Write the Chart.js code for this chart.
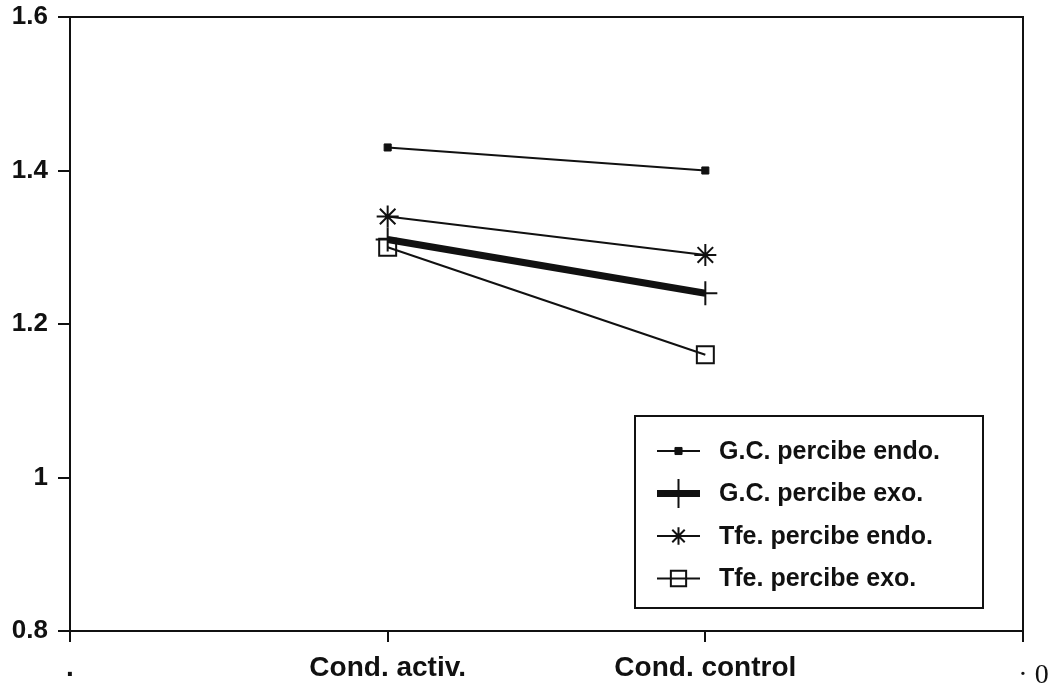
<!DOCTYPE html>
<html>
<head>
<meta charset="utf-8">
<script src="https://cdn.jsdelivr.net/npm/chart.js@4/dist/chart.umd.min.js"></script>
<style>
  html, body { margin: 0; padding: 0; background: #ffffff; }
  #wrap { width: 1048px; height: 686px; }
</style>
</head>
<body>
<div id="wrap"><canvas id="chart" width="1048" height="686"></canvas></div>
<script>
// Categories along the x axis (outer two are spacer positions)
const categories = ['.', 'Cond. activ.', 'Cond. control', '   \u00b7 0'];

// Mean perception scores per group
const gcEndo  = [null, 1.43, 1.40, null];
const gcExo   = [null, 1.31, 1.24, null];
const tfeEndo = [null, 1.34, 1.29, null];
const tfeExo  = [null, 1.30, 1.16, null];

const seriesNames = ['G.C. percibe endo.', 'G.C. percibe exo.', 'Tfe. percibe endo.', 'Tfe. percibe exo.'];

// Value axis
const yTicks = [0.8, 1.0, 1.2, 1.4, 1.6];

const INK = '#111111';
const boldSans = (size, lh) => ({ family: "'Liberation Sans', Arial, sans-serif", size: size, weight: 'bold', lineHeight: lh || 1.2 });

function drawMarker(ctx, ds, x, y, scale) {
  const opts = {
    pointStyle: ds.pointStyle,
    radius: ds.pointRadius * (scale || 1),
    rotation: 0,
    borderWidth: ds.pointBorderWidth
  };
  ctx.save();
  ctx.strokeStyle = ds.pointBorderColor;
  ctx.fillStyle = ds.pointBackgroundColor;
  ctx.lineWidth = ds.pointBorderWidth;
  if (opts.radius > 0) Chart.helpers.drawPoint(ctx, opts, x, y);
  ctx.restore();
}

// Closes the plot frame on the top and right sides
const frame = {
  id: 'frame',
  beforeDatasetsDraw(chart) {
    const a = chart.chartArea;
    const ctx = chart.ctx;
    ctx.save();
    ctx.strokeStyle = INK;
    ctx.lineWidth = 2;
    ctx.beginPath();
    ctx.moveTo(a.left, a.top);
    ctx.lineTo(a.right, a.top);
    ctx.lineTo(a.right, a.bottom);
    ctx.stroke();
    ctx.restore();
  }
};

// Boxed legend with a line sample and marker for every series
const legendMarkerScale = [1, 1.2, 0.8, 0.9];
const boxedLegend = {
  id: 'boxedLegend',
  afterDraw(chart) {
    const ctx = chart.ctx;
    const bx = 635, by = 416, bw = 348, bh = 192;
    ctx.save();
    ctx.fillStyle = '#ffffff';
    ctx.fillRect(bx, by, bw, bh);
    ctx.strokeStyle = INK;
    ctx.lineWidth = 2;
    ctx.strokeRect(bx, by, bw, bh);
    chart.data.datasets.forEach((ds, i) => {
      const cy = 451 + i * 42.5;
      ctx.strokeStyle = ds.borderColor;
      ctx.lineWidth = ds.borderWidth;
      ctx.beginPath();
      ctx.moveTo(657, cy);
      ctx.lineTo(700, cy);
      ctx.stroke();
      drawMarker(ctx, ds, 678.5, cy, legendMarkerScale[i]);
      ctx.fillStyle = INK;
      ctx.font = "bold 25px 'Liberation Sans', Arial, sans-serif";
      ctx.textAlign = 'left';
      ctx.textBaseline = 'middle';
      ctx.fillText(ds.label, 719, cy + 1);
    });
    ctx.restore();
  }
};

const series = [
  { data: gcEndo,  borderWidth: 2, pointStyle: 'rect',  pointRadius: 5,  pointBorderWidth: 1, pointBackgroundColor: INK },
  { data: gcExo,   borderWidth: 7, pointStyle: 'cross', pointRadius: 12, pointBorderWidth: 2, pointBackgroundColor: 'rgba(0,0,0,0)' },
  { data: tfeEndo, borderWidth: 2, pointStyle: 'star',  pointRadius: 11, pointBorderWidth: 2, pointBackgroundColor: 'rgba(0,0,0,0)' },
  { data: tfeExo,  borderWidth: 2, pointStyle: 'rect',  pointRadius: 12, pointBorderWidth: 2, pointBackgroundColor: 'rgba(0,0,0,0)' }
];

const datasets = series.map((s, i) => Object.assign({
  label: seriesNames[i],
  borderColor: INK,
  pointBorderColor: INK,
  pointHoverRadius: s.pointRadius,
  fill: false,
  tension: 0,
  spanGaps: false
}, s));

new Chart(document.getElementById('chart'), {
  type: 'line',
  data: { labels: categories, datasets: datasets },
  plugins: [frame, boxedLegend],
  options: {
    responsive: false,
    animation: false,
    devicePixelRatio: 1,
    layout: { padding: { top: 17, right: 25, bottom: 0, left: 0 } },
    plugins: {
      legend: { display: false },
      tooltip: { enabled: false },
      title: { display: false }
    },
    scales: {
      x: {
        type: 'category',
        offset: false,
        grid: {
          display: true,
          drawOnChartArea: false,
          drawTicks: true,
          tickLength: 11,
          color: INK,
          lineWidth: 2
        },
        border: { display: true, color: INK, width: 2 },
        ticks: {
          color: INK,
          autoSkip: false,
          maxRotation: 0,
          minRotation: 0,
          padding: 8,
          font: (c) => c.index === 3
            ? { family: "'Liberation Serif', 'Times New Roman', serif", size: 28, weight: 'normal', lineHeight: 1.85 }
            : boldSans(28, 1.3)
        },
        afterFit: (s) => { s.height = 55; s.paddingLeft = 0; s.paddingRight = 0; }
      },
      y: {
        min: 0.8,
        max: 1.6,
        afterBuildTicks: (s) => { s.ticks = yTicks.map(v => ({ value: v })); },
        grid: {
          display: true,
          drawOnChartArea: false,
          drawTicks: true,
          tickLength: 12,
          color: INK,
          lineWidth: 2
        },
        border: { display: true, color: INK, width: 2 },
        ticks: {
          color: INK,
          padding: 10,
          font: boldSans(26, 1.2),
          callback: (v) => String(Number(v.toFixed(1)))
        },
        afterFit: (s) => { s.width = 70; s.paddingTop = 0; s.paddingBottom = 0; }
      }
    }
  }
});
</script>
</body>
</html>
